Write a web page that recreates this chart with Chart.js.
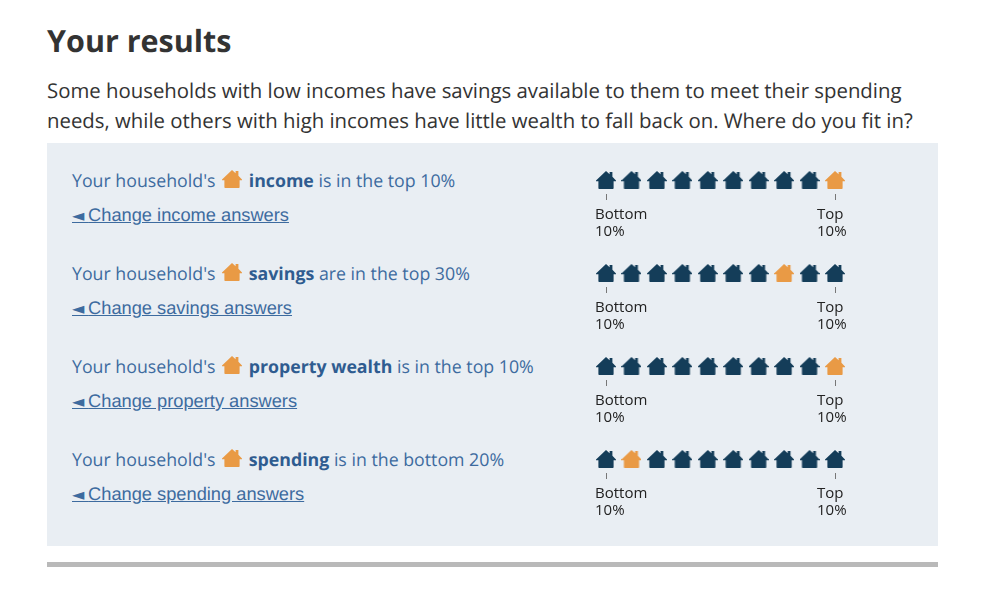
<!DOCTYPE html>
<html><head><meta charset="utf-8">
<script src="https://cdn.jsdelivr.net/npm/chart.js@4"></script>
<style>
html,body{margin:0;padding:0;background:#fff;width:1006px;height:600px;overflow:hidden;text-rendering:geometricPrecision}
.abs{position:absolute;white-space:nowrap}
h1{margin:0;left:47px;top:20px;font:700 30.5px/40px "Open Sans",sans-serif;color:#333}
.intro{left:47px;font:400 20.38px/30px "Open Sans",sans-serif;color:#333}
#panel{left:47px;top:143px;width:891px;height:403px;background:#e9eef3}
#rule{left:47px;top:562px;width:891px;height:5px;background:#b9b9b9}
.lead{left:72px;font:400 17.75px/24px "Open Sans",sans-serif;color:#3d6b9f}
.lead b{font-weight:700;color:#2f5c90}
.lead svg{vertical-align:-1px;margin:0 2px}
.link{left:72px;font:400 18.25px/24px "Liberation Sans",sans-serif;color:#3d6b9f;text-decoration:underline}
.link span{font:400 16px/24px "DejaVu Sans",sans-serif;word-spacing:-1.3px}
canvas{position:absolute}
</style></head><body>
<h1 class="abs">Your results</h1>
<div class="abs intro" style="top:75px">Some households with low incomes have savings available to them to meet their spending</div>
<div class="abs intro" style="top:105px">needs, while others with high incomes have little wealth to fall back on. Where do you fit in?</div>
<div class="abs" id="panel"></div>
<div class="abs" id="rule"></div>
<script>
const deciles = [1,2,3,4,5,6,7,8,9,10];
const measures = ["income","savings","property wealth","spending"];
const verbs = ["is","are","is","is"];
const rankText = ["top 10%","top 30%","top 10%","bottom 20%"];
const linkNames = ["income","savings","property","spending"];
const highlighted = [10,8,10,2];
const bottomLabel = ["Bottom","10%"];
const topLabel = ["Top","10%"];
const endDeciles = [1,10];

const HOUSE = "M10 0L13.6 3.2V1H16.4V5.8L20 9.6V10.2H17.6V17.2Q17.6 18 16.8 18H3.2Q2.4 18 2.4 17.2V10.2H0V9.6Z";
const NAVY = "#143d59", ORANGE = "#e99a45";
function houseIcon(color){
  const c = document.createElement("canvas");
  c.width = 20; c.height = 18;
  const g = c.getContext("2d");
  g.fillStyle = color;
  g.fill(new Path2D(HOUSE));
  return c;
}
const navyHouse = houseIcon(NAVY), orangeHouse = houseIcon(ORANGE);
const ROW_STEP = 93;

// x range chosen so decile 1 sits 11px in from the canvas edge, decile 10 12px from the other
const unit = 229/9, xMin = 1-11/unit, xMax = 10+12/unit;
const labelAnchors = [xMin, 1+(817-606)/unit];

measures.forEach((m,i)=>{
  const off = i*ROW_STEP;
  const lead = document.createElement("div");
  lead.className = "abs lead";
  lead.style.top = (168.5+off)+"px";
  lead.innerHTML = `Your household's <svg width="20" height="18" viewBox="0 0 20 18"><path fill="${ORANGE}" d="${HOUSE}"/></svg> <b>${m}</b> ${verbs[i]} in the ${rankText[i]}`;
  document.body.appendChild(lead);
  const link = document.createElement("div");
  link.className = "abs link";
  link.style.top = (203+off)+"px";
  link.innerHTML = "<span>◄ </span>Change "+linkNames[i]+" answers";
  document.body.appendChild(link);

  const cv = document.createElement("canvas");
  cv.style.left = "595px"; cv.style.top = (166+off)+"px";
  cv.style.width = "252px"; cv.style.height = "77px";
  cv.width = 252; cv.height = 77;
  document.body.appendChild(cv);
  new Chart(cv,{
    type:"scatter",
    data:{datasets:[{
      data:deciles.map(d=>({x:d,y:0})),
      pointStyle:deciles.map(d=>d===highlighted[i]?orangeHouse:navyHouse),
      clip:false
    }]},
    options:{
      responsive:false,animation:false,devicePixelRatio:1,
      layout:{padding:0,autoPadding:false},
      plugins:{legend:{display:false},tooltip:{enabled:false}},
      scales:{
        y:{display:false,min:-1,max:1},
        x:{type:"linear",position:"bottom",min:xMin,max:xMax,
          afterBuildTicks:s=>{s.ticks=endDeciles.map(v=>({value:v}));},
          border:{display:false},
          grid:{drawOnChartArea:false,tickLength:6,tickColor:"#777",tickWidth:1},
          ticks:{display:false,padding:0}},
        xl:{type:"linear",position:"bottom",min:xMin,max:xMax,
          afterBuildTicks:s=>{s.ticks=labelAnchors.map(v=>({value:v}));},
          afterFit:s=>{s.height=43;},
          border:{display:false},
          grid:{display:false,tickLength:6},
          ticks:{autoSkip:false,maxRotation:0,minRotation:0,align:"start",padding:0,
            color:"#222",font:{family:"'Open Sans'",size:15,lineHeight:1.13},
            callback:(v,idx)=>idx===0?bottomLabel:topLabel}}
      }
    }
  });
});
</script>
</body></html>
